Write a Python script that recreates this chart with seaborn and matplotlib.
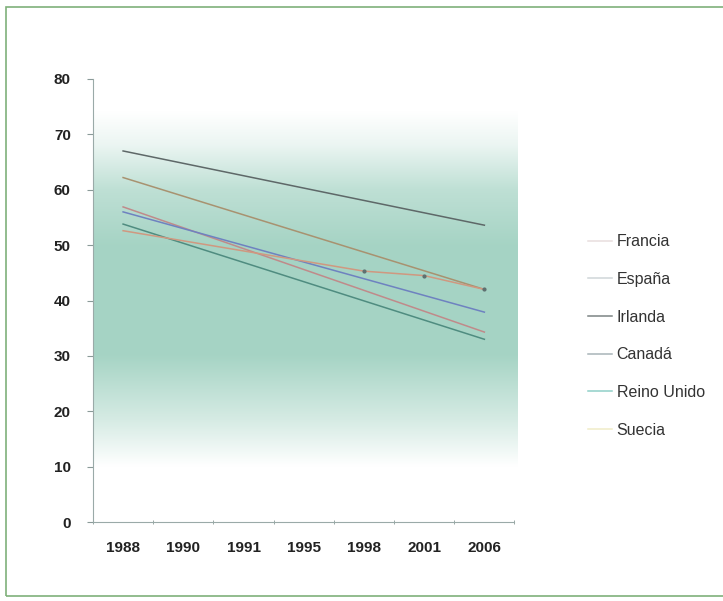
import numpy as np
import pandas as pd
import seaborn as sns
import matplotlib.pyplot as plt
from matplotlib.colors import to_rgb
from matplotlib.patches import Rectangle

# data (NaN = no point for that year)
years = ['1988', '1990', '1991', '1995', '1998', '2001', '2006']
francia = [56.9, np.nan, np.nan, np.nan, np.nan, np.nan, 34.3]
espana = [62.2, np.nan, np.nan, np.nan, np.nan, np.nan, 42.0]
irlanda = [67.0, np.nan, np.nan, np.nan, np.nan, np.nan, 53.6]
canada = [56.0, np.nan, np.nan, np.nan, np.nan, np.nan, 37.9]
reino_unido = [53.8, np.nan, np.nan, np.nan, np.nan, np.nan, 33.0]
suecia = [52.6, np.nan, np.nan, np.nan, 45.3, 44.5, 42.0]

countries = ['Francia', 'España', 'Irlanda', 'Canadá', 'Reino Unido', 'Suecia']
series = [francia, espana, irlanda, canada, reino_unido, suecia]
line_colors = ['#c08a8a', '#a89270', '#5e6868', '#6e82c0', '#4f8c80', '#d09880']
legend_colors = ['#e8dede', '#cfd6d8', '#7c8484', '#a8b4b8', '#8fd0c8', '#f0ecc8']

rows = []
for name, vals in zip(countries, series):
    for yr, v in zip(years, vals):
        if not np.isnan(v):
            rows.append({'year': yr, 'value': v, 'country': name})
df = pd.DataFrame(rows)
df['year'] = pd.Categorical(df['year'], categories=years, ordered=True)

plt.rcParams['font.family'] = ['Liberation Sans', 'DejaVu Sans']

fig = plt.figure(figsize=(7.23, 6.01), dpi=100)
ax = fig.add_axes([0.1286, 0.1314, 0.583, 0.7372])

# teal gradient band behind the lines
yy = np.linspace(0, 80, 400)
alpha = np.interp(yy, [0, 10, 18, 30, 50, 60, 68, 74, 80],
                  [0, 0, 0.4, 0.9, 0.9, 0.65, 0.2, 0, 0])
teal = np.array(to_rgb('#9ccfbe'))
img = np.ones((400, 1, 3)) * (1 - alpha[:, None, None]) + teal * alpha[:, None, None]
ax.imshow(img, extent=(-0.5, 6.55, 0, 80), origin='lower', aspect='auto', zorder=0,
          clip_on=False)

sns.lineplot(data=df, x='year', y='value', hue='country', hue_order=countries,
             palette=line_colors, linewidth=1.1, ax=ax, zorder=2, sort=True)
# small markers on the Suecia series
sue = df[df['country'] == 'Suecia']
ax.plot(sue['year'].cat.codes.values[1:], sue['value'].values[1:], 'o',
        color='#5e7070', markersize=2.0, zorder=3)

ax.set_xlim(-0.5, 6.5)
ax.set_ylim(0, 80)
ax.set_yticks(range(0, 81, 10))
ax.set_xticks(range(len(years)))
ax.set_xticklabels(years)
ax.set_xticks(np.arange(-0.5, 7, 1), minor=True)
ax.tick_params(axis='x', which='major', length=0, pad=14)
ax.tick_params(axis='x', which='minor', length=3, direction='inout', color='#8a9a98')
ax.tick_params(axis='y', length=4, color='#8a9a98', pad=12)
for lab in ax.get_xticklabels() + ax.get_yticklabels():
    lab.set_fontweight('bold')
    lab.set_fontsize(11)
    lab.set_color('#222222')
ax.set_xlabel('')
ax.set_ylabel('')
for s in ['top', 'right']:
    ax.spines[s].set_visible(False)
for s in ['left', 'bottom']:
    ax.spines[s].set_color('#9aaaa8')
    ax.spines[s].set_linewidth(0.8)

handles, labels = ax.get_legend_handles_labels()
for h, c in zip(handles, legend_colors):
    h.set_color(c)
leg = ax.legend(handles, labels, loc='center left', bbox_to_anchor=(1.14, 0.42),
                frameon=False, fontsize=11.5, handlelength=1.5, handletextpad=0.3,
                labelspacing=1.42)
for t in leg.get_texts():
    t.set_color('#333333')

# green frame around the whole picture
fig.patches.append(Rectangle((0.008, 0.008), 1.2, 0.98, transform=fig.transFigure,
                             fill=False, edgecolor='#7fb07a', linewidth=1.2))

fig.savefig('out.png', dpi=100)
